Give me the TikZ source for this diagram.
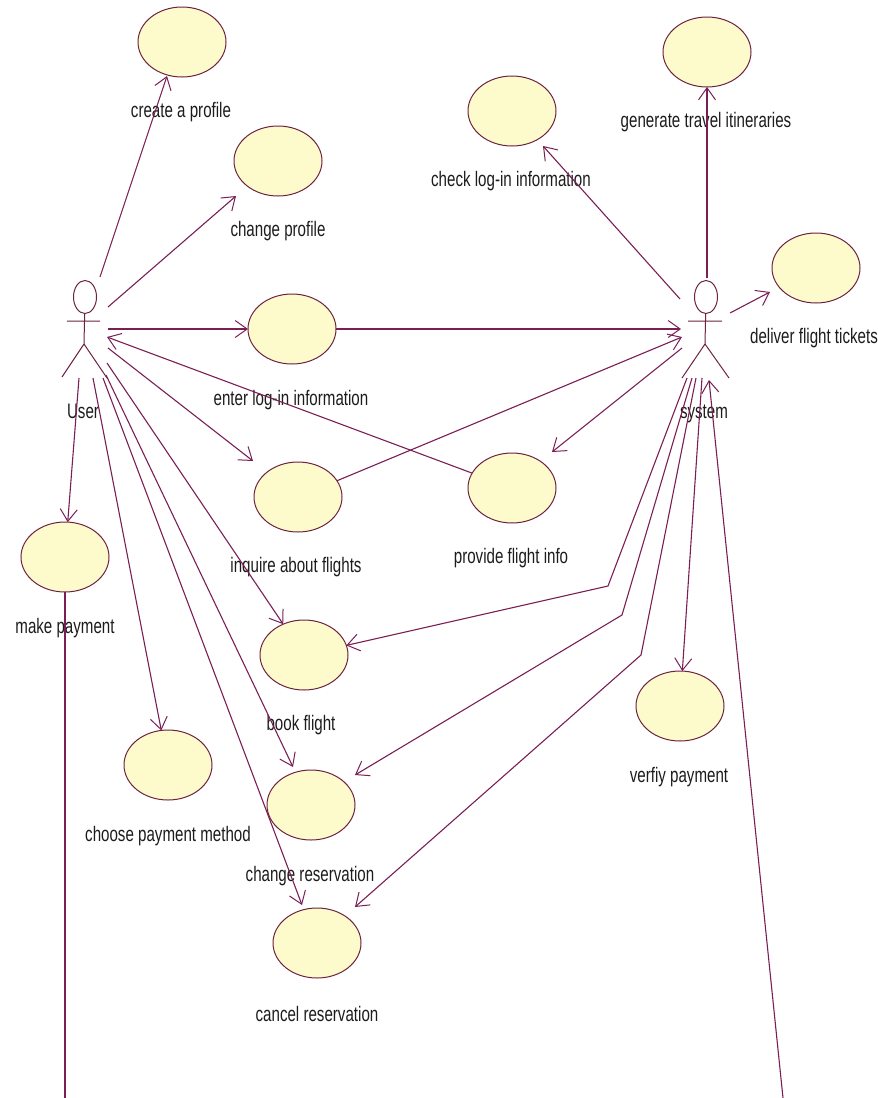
\documentclass[tikz,border=0pt]{standalone}
\usepackage{fontspec}
\setmainfont[FakeStretch=0.72]{Liberation Sans}
\usetikzlibrary{arrows.meta,shapes.geometric}
\definecolor{umlline}{HTML}{7A1F55}
\definecolor{umledge}{HTML}{6E2242}
\definecolor{umlfill}{HTML}{FDFBCB}
\definecolor{umltext}{HTML}{1C1C1C}
\tikzset{
  usecase/.style={ellipse,draw=umledge,fill=umlfill,line width=1pt,minimum width=88pt,minimum height=70pt,inner sep=0pt,outer sep=0pt},
  lbl/.style={text=umltext,inner sep=0pt,font=\fontsize{21}{24}\selectfont},
  head/.style={ellipse,draw=umledge,line width=1pt,minimum width=23pt,minimum height=33pt,inner sep=0pt,outer sep=0pt},
  figure/.style={draw=umledge,line width=1pt},
  link/.style={draw=umlline,line width=1.1pt},
  assoc/.style={link,-{Straight Barb[length=12pt,width=17pt,line width=1pt]}}
}
\begin{document}
\begin{tikzpicture}[x=1pt,y=-1pt]
\useasboundingbox (0,0) rectangle (878,1098);
% use cases
\node[usecase] (create) at (182,42) {};
\node[usecase] (chprof) at (278,161) {};
\node[usecase] (check) at (512,111) {};
\node[usecase] (gen) at (707,52) {};
\node[usecase] (deliver) at (816,268) {};
\node[usecase] (enter) at (292,329) {};
\node[usecase] (inquire) at (298,497) {};
\node[usecase] (provide) at (512,488) {};
\node[usecase] (pay) at (65,557) {};
\node[usecase] (book) at (304,655) {};
\node[usecase] (verify) at (680,706) {};
\node[usecase] (choose) at (168,765) {};
\node[usecase] (chres) at (311,805) {};
\node[usecase] (cancel) at (317,943) {};
% labels
\node[lbl] (t1) at (181,112) {create a profile};
\node[lbl] (t2) at (278,231) {change profile};
\node[lbl] (t3) at (511,181) {check log-in information};
\node[lbl] (t4) at (706,122) {generate travel itineraries};
\node[lbl] (t5) at (814,338) {deliver flight tickets};
\node[lbl] (t6) at (291,400) {enter log-in information};
\node[lbl] (t7) at (296,567) {inquire about flights};
\node[lbl] (t8) at (511,558) {provide flight info};
\node[lbl] (t9) at (65,628) {make payment};
\node[lbl] (t10) at (301,725) {book flight};
\node[lbl] (t11) at (168,836) {choose payment method};
\node[lbl] (t12) at (310,876) {change reservation};
\node[lbl] (t13) at (317,1014) {cancel reservation};
\node[lbl] (t14) at (83,411) {User};
\node[lbl] (t15) at (704,414) {system};
\node[lbl] (t16) at (679,777) {verfiy payment};
% actors
\node[head] (uhead) at (85,297) {};
\coordinate (uarmL) at (67,321); \coordinate (uarmR) at (100,321);
\coordinate (uhip) at (84,344); \coordinate (ulegL) at (62,377); \coordinate (ulegR) at (107,378);
\draw[figure] (uhead) -- (uhip) (uarmL) -- (uarmR) (ulegL) -- (uhip) -- (ulegR);
\node[head] (shead) at (706,297) {};
\coordinate (sarmL) at (688,321); \coordinate (sarmR) at (722,321);
\coordinate (ship) at (705,344); \coordinate (slegL) at (682,378); \coordinate (slegR) at (729,378);
\draw[figure] (shead) -- (ship) (sarmL) -- (sarmR) (slegL) -- (ship) -- (slegR);
% connector ends around the User
\coordinate (u1) at (100,277);
\coordinate (u2) at (108,307);
\coordinate (u3) at (108,329);
\coordinate (u4) at (107,337);
\coordinate (u5) at (108,348);
\coordinate (u6) at (107,363);
\coordinate (u7) at (106,375);
\coordinate (u8) at (103,378);
\coordinate (u9) at (93,378);
\coordinate (u10) at (79,378);
% connector ends around the system
\coordinate (s1) at (707,278);
\coordinate (s2) at (680,299);
\coordinate (s3) at (730,313);
\coordinate (s4) at (681,329);
\coordinate (s5) at (682,337);
\coordinate (s6) at (682,348);
\coordinate (s7) at (687,378);
\coordinate (s8) at (692,378);
\coordinate (s9) at (696,378);
\coordinate (s10) at (702,378);
\coordinate (s11) at (709,380);
% bends and free ends
\coordinate (b1) at (608,586);
\coordinate (b2) at (622,615);
\coordinate (b3) at (641,655);
\coordinate (payend) at (65,1098);
\coordinate (sysend) at (783,1098);
% arrow tips that stop just off a use case
\coordinate (createtip) at ([shift={(-15,34)}]create.center);
\coordinate (chproftip) at ([shift={(-42,35)}]chprof.center);
\coordinate (checktip) at ([shift={(31,35)}]check.center);
\coordinate (delivertip) at ([shift={(-46,24)}]deliver.center);
\coordinate (inquiretip) at ([shift={(-45,-36)}]inquire.center);
\coordinate (providetip) at ([shift={(40,-36)}]provide.center);
\coordinate (chrestipa) at ([shift={(-18,-38)}]chres.center);
\coordinate (chrestipb) at ([shift={(44,-30)}]chres.center);
\coordinate (canceltipa) at ([shift={(-15,-38)}]cancel.center);
\coordinate (canceltipb) at ([shift={(38,-36)}]cancel.center);
% connectors
\draw[assoc] (u1) -- (createtip);
\draw[assoc] (u2) -- (chproftip);
\draw[assoc] (u3) -- (enter);
\draw[assoc] (enter) -- (s4);
\draw[assoc] (provide) -- (u4);
\draw[assoc] (u5) -- (inquiretip);
\draw[assoc] (inquire) -- (s5);
\draw[assoc] (s6) -- (providetip);
\draw[assoc] (u6) -- (book);
\draw[assoc] (u7) -- (chrestipa);
\draw[assoc] (u8) -- (canceltipa);
\draw[assoc] (u9) -- (choose);
\draw[assoc] (u10) -- (pay);
\draw[assoc] (s1) -- (gen);
\draw[assoc] (s2) -- (checktip);
\draw[assoc] (s3) -- (delivertip);
\draw[assoc] (s7) -- (b1) -- (book);
\draw[assoc] (s8) -- (b2) -- (chrestipb);
\draw[assoc] (s9) -- (b3) -- (canceltipb);
\draw[assoc] (s10) -- (verify);
\draw[assoc] (sysend) -- (s11);
\draw[link] (pay) -- (payend);
\end{tikzpicture}
\end{document}
